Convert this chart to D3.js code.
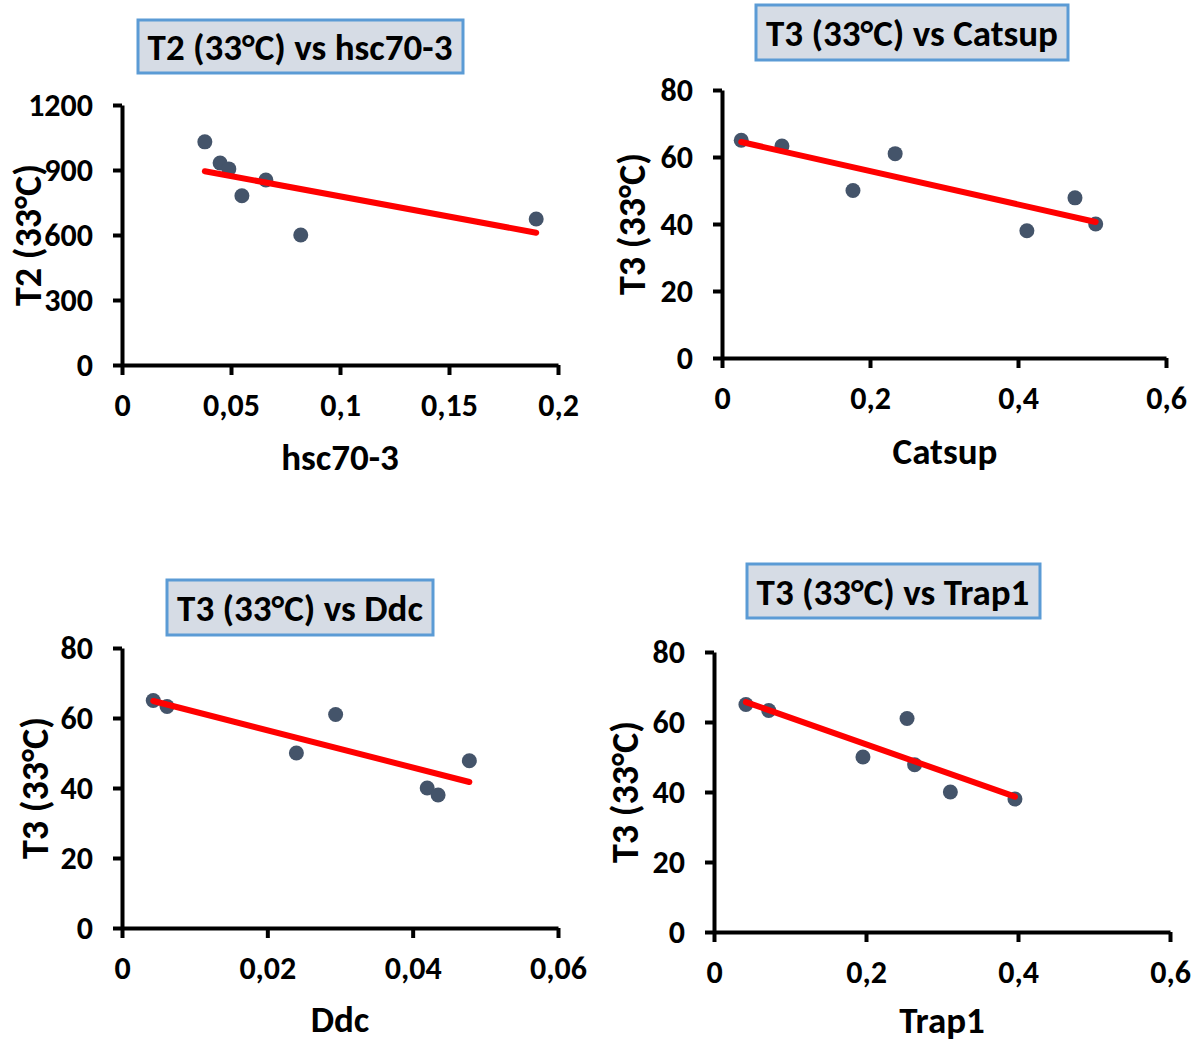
<!DOCTYPE html>
<html>
<head>
<meta charset="utf-8">
<script src="https://cdn.jsdelivr.net/npm/d3@7"></script>
<style>
  html, body { margin: 0; padding: 0; background: #fff; }
  svg { display: block; }
  text { font-family: Carlito, Lato, "Open Sans", sans-serif; font-weight: bold; fill: #000; }
</style>
</head>
<body>
<svg id="chart" width="1200" height="1042"></svg>
<script>
// ---------- DATA ----------
const titles = ["T2 (33°C) vs hsc70-3", "T3 (33°C) vs Catsup", "T3 (33°C) vs Ddc", "T3 (33°C) vs Trap1"];
const xLabels = ["hsc70-3", "Catsup", "Ddc", "Trap1"];
const yLabels = ["T2 (33°C)", "T3 (33°C)", "T3 (33°C)", "T3 (33°C)"];

const hscX = [0.038, 0.045, 0.049, 0.055, 0.066, 0.082, 0.190];
const hscY = [1030, 932, 905, 781, 854, 600, 674];

const catsupX = [0.026, 0.081, 0.177, 0.234, 0.412, 0.477, 0.505];
const catsupY = [65, 63.3, 50, 61, 38, 47.8, 40];

const ddcX = [0.0043, 0.0062, 0.0240, 0.0294, 0.0420, 0.0435, 0.0478];
const ddcY = [65, 63.3, 50, 61, 40, 38, 47.8];

const trapX = [0.042, 0.072, 0.196, 0.254, 0.264, 0.311, 0.396];
const trapY = [65, 63.3, 50, 61, 47.8, 40, 38];

const xTicks1 = [0, 0.05, 0.1, 0.15, 0.2];
const xTickLabels1 = ["0", "0,05", "0,1", "0,15", "0,2"];
const yTicks1 = [0, 300, 600, 900, 1200];
const yTickLabels1 = ["0", "300", "600", "900", "1200"];

const xTicks2 = [0, 0.2, 0.4, 0.6];
const xTickLabels2 = ["0", "0,2", "0,4", "0,6"];
const xTicks3 = [0, 0.02, 0.04, 0.06];
const xTickLabels3 = ["0", "0,02", "0,04", "0,06"];
const yTicks80 = [0, 20, 40, 60, 80];
const yTickLabels80 = ["0", "20", "40", "60", "80"];

// ---------- LAYOUT (positions/styles separate from data) ----------
const layouts = [
  { xr: [122, 558], yr: [365, 105], box: [138, 20, 325, 53], xlab: [340, 457], ylab: [28, 235], title: [300, 47] },
  { xr: [722, 1166], yr: [358, 90], box: [756, 5, 312, 55], xlab: [945, 451], ylab: [632, 224], title: [912, 33] },
  { xr: [122, 558], yr: [928, 648], box: [167, 580, 266, 55], xlab: [340, 1019], ylab: [35, 788], title: [300, 608] },
  { xr: [714, 1170], yr: [932, 652], box: [747, 564, 293, 54], xlab: [942, 1020], ylab: [625, 792], title: [893, 592] }
];

const panels = [
  { x: hscX, y: hscY, xTicks: xTicks1, xTickLabels: xTickLabels1, yTicks: yTicks1, yTickLabels: yTickLabels1 },
  { x: catsupX, y: catsupY, xTicks: xTicks2, xTickLabels: xTickLabels2, yTicks: yTicks80, yTickLabels: yTickLabels80 },
  { x: ddcX, y: ddcY, xTicks: xTicks3, xTickLabels: xTickLabels3, yTicks: yTicks80, yTickLabels: yTickLabels80 },
  { x: trapX, y: trapY, xTicks: xTicks2, xTickLabels: xTickLabels2, yTicks: yTicks80, yTickLabels: yTickLabels80 }
];

const svg = d3.select("#chart");

function regression(xs, ys) {
  const mx = d3.mean(xs), my = d3.mean(ys);
  let sxy = 0, sxx = 0;
  xs.forEach((v, i) => { sxy += (v - mx) * (ys[i] - my); sxx += (v - mx) * (v - mx); });
  const b = sxy / sxx, a = my - b * mx;
  return x => a + b * x;
}

panels.forEach((p, i) => {
  const L = layouts[i];
  const g = svg.append("g");
  const x = d3.scaleLinear().domain(d3.extent(p.xTicks)).range(L.xr);
  const y = d3.scaleLinear().domain(d3.extent(p.yTicks)).range(L.yr);

  // axes
  const xAxis = d3.axisBottom(x).tickValues(p.xTicks)
    .tickFormat((d, j) => p.xTickLabels[j]).tickSizeInner(10).tickSizeOuter(0).tickPadding(18);
  const yAxis = d3.axisLeft(y).tickValues(p.yTicks)
    .tickFormat((d, j) => p.yTickLabels[j]).tickSizeInner(9).tickSizeOuter(0).tickPadding(20);

  const gx = g.append("g").attr("transform", `translate(0,${L.yr[0]})`).call(xAxis);
  const gy = g.append("g").attr("transform", `translate(${L.xr[0]},0)`).call(yAxis);
  [gx, gy].forEach(a => {
    a.select(".domain").attr("stroke", "#000").attr("stroke-width", 4);
    a.selectAll(".tick line").attr("stroke", "#000").attr("stroke-width", 4);
    a.selectAll(".tick text").attr("font-size", 32).attr("font-weight", "bold")
      .attr("font-family", "Carlito, Lato, sans-serif").attr("fill", "#000");
  });

  // points
  g.append("g").selectAll("circle").data(p.x.map((v, j) => [v, p.y[j]])).join("circle")
    .attr("cx", d => x(d[0])).attr("cy", d => y(d[1])).attr("r", 7.5).attr("fill", "#44546a");

  // trend line
  const f = regression(p.x, p.y);
  const ext = d3.extent(p.x);
  g.append("line")
    .attr("x1", x(ext[0])).attr("y1", y(f(ext[0])))
    .attr("x2", x(ext[1])).attr("y2", y(f(ext[1])))
    .attr("stroke", "#ff0000").attr("stroke-width", 6).attr("stroke-linecap", "round");

  // title box
  g.append("rect").attr("x", L.box[0]).attr("y", L.box[1]).attr("width", L.box[2]).attr("height", L.box[3])
    .attr("fill", "#d6dce5").attr("stroke", "#5b9bd5").attr("stroke-width", 3);
  g.append("text").attr("x", L.title[0]).attr("y", L.title[1]).attr("text-anchor", "middle")
    .attr("dominant-baseline", "central").attr("font-size", 37).text(titles[i]);

  // axis labels
  g.append("text").attr("x", L.xlab[0]).attr("y", L.xlab[1]).attr("text-anchor", "middle")
    .attr("dominant-baseline", "central").attr("font-size", 37).text(xLabels[i]);
  g.append("text").attr("transform", `translate(${L.ylab[0]},${L.ylab[1]}) rotate(-90)`)
    .attr("text-anchor", "middle").attr("dominant-baseline", "central").attr("font-size", 38).text(yLabels[i]);
});
</script>
</body>
</html>
